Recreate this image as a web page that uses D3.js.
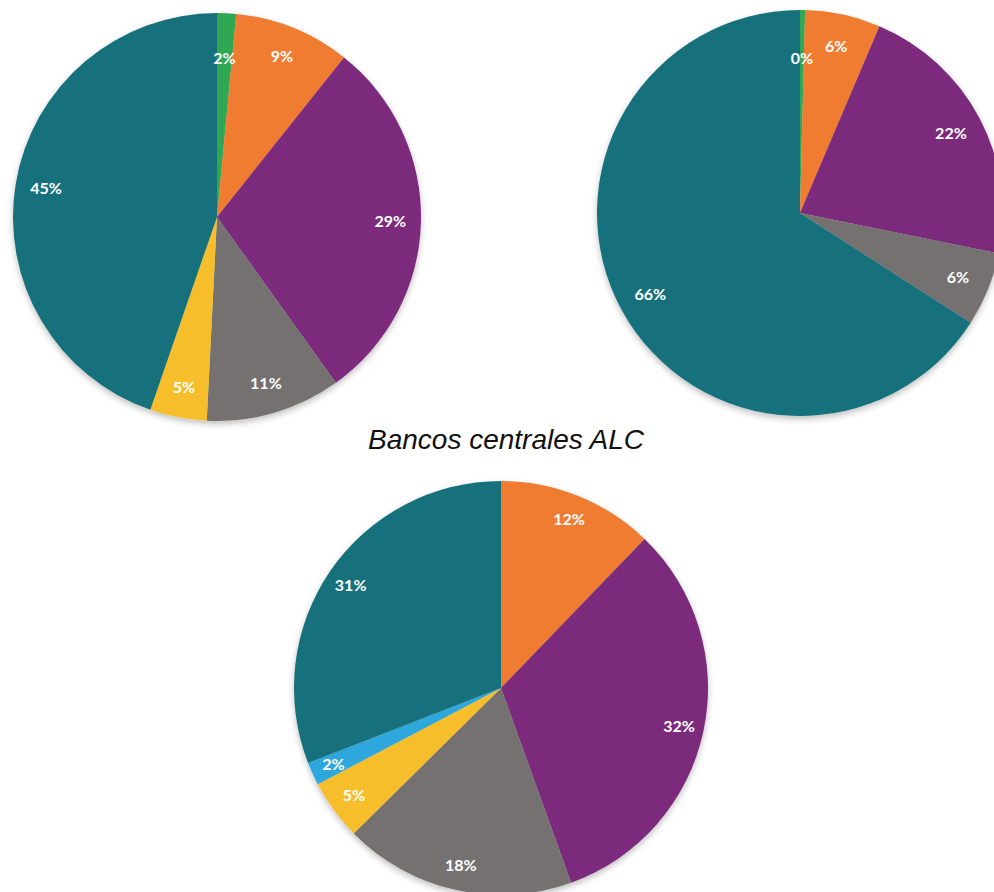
<!DOCTYPE html>
<html>
<head>
<meta charset="utf-8">
<script src="https://cdn.jsdelivr.net/npm/d3@7"></script>
<style>
  body { margin: 0; background: #fff; }
  svg { display: block; }
</style>
</head>
<body>
<svg></svg>
<script>
// categories in clockwise order from 12 o'clock
let categories = ["Cat. 1", "Cat. 2", "Cat. 3", "Cat. 4", "Cat. 5", "Cat. 6", "Cat. 7"]

// shares (%)
let pie1Values = [1.5, 9.2, 29.4, 10.7, 4.5, 0, 44.7]
let pie2Values = [0.4, 6.0, 21.8, 5.9, 0, 0, 65.9]
let pie3Values = [0, 12.2, 32.3, 18.1, 4.7, 1.8, 30.9]

let pieTitle = "Bancos centrales ALC"

let width = 994
let height = 892

let colors = ["#2ea852", "#f07b30", "#7b2a7c", "#767171", "#f6be2c", "#2fa8dc", "#17717b"]

let svg = d3.select("svg")
    .attr("width", width)
    .attr("height", height)

// soft shadow under each pie
let defs = svg.append("defs")
defs.append("filter")
    .attr("id", "shadow")
    .attr("x", "-10%").attr("y", "-10%")
    .attr("width", "120%").attr("height", "120%")
    .append("feDropShadow")
    .attr("dx", 0)
    .attr("dy", 3)
    .attr("stdDeviation", 3)
    .attr("flood-color", "#000")
    .attr("flood-opacity", 0.25)

let colorScale = d3.scaleOrdinal()
    .domain(categories)
    .range(colors)

let pie = d3.pie()
    .sort(null)
    .value((d) => d.value)

let drawPie = (values, cx, cy, radius, labelRatio, smallRatio) => {
    let data = categories.map((c, i) => {
        return { category: c, value: values[i] }
    })

    let arc = d3.arc().innerRadius(0).outerRadius(radius)
    // tiny slices at the top get their label pulled inwards, like Excel's best fit
    let labelPos = (d) => {
        let r = radius * (d.data.value < 3 ? smallRatio : labelRatio)
        return d3.arc().innerRadius(r).outerRadius(r).centroid(d)
    }

    let g = svg.append("g")
        .attr("transform", "translate(" + cx + "," + cy + ")")

    let arcs = pie(data).filter((d) => d.data.value > 0)

    g.append("g")
        .attr("filter", "url(#shadow)")
        .selectAll("path")
        .data(arcs)
        .enter()
        .append("path")
        .attr("d", arc)
        .attr("fill", (d) => colorScale(d.data.category))

    g.selectAll("text")
        .data(arcs)
        .enter()
        .append("text")
        .attr("transform", (d) => "translate(" + labelPos(d) + ")")
        .attr("text-anchor", "middle")
        .attr("dy", "0.35em")
        .attr("fill", "#fff")
        .style("font-family", "Lato, 'Open Sans', sans-serif")
        .style("font-weight", "bold")
        .style("font-size", "16px")
        .text((d) => Math.round(d.data.value) + "%")
}

drawPie(pie1Values, 217, 217, 204, 0.85, 0.78)
drawPie(pie2Values, 800, 213, 203, 0.84, 0.76)
drawPie(pie3Values, 501, 688, 207, 0.88, 0.89)

svg.append("text")
    .attr("x", 506)
    .attr("y", 449)
    .attr("text-anchor", "middle")
    .style("font-family", "'Liberation Sans', Arial, sans-serif")
    .style("font-style", "italic")
    .style("font-size", "28px")
    .attr("fill", "#111")
    .text(pieTitle)
</script>
</body>
</html>
